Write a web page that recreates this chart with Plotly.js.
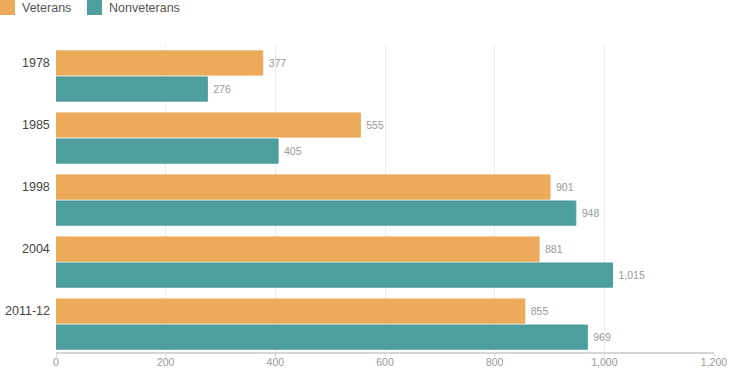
<!DOCTYPE html>
<html><head><meta charset="utf-8">
<script src="https://cdn.plot.ly/plotly-3.0.1.min.js"></script>
<style>html,body{margin:0;padding:0;background:#fff}#chart{width:729px;height:371px}</style>
</head><body><div id="chart"></div>
<script>
const years = ["1978", "1985", "1998", "2004", "2011-12"];
const veterans = [377, 555, 901, 881, 855];
const nonveterans = [276, 405, 948, 1015, 969];
const seriesNames = ["Veterans", "Nonveterans"];
const colors = ["#ecaa5b", "#4e9e9d"];
const xTicks = [0, 200, 400, 600, 800, 1000, 1200];

const W = 729, H = 371, ML = 56, MR = 15, MT = 45, MB = 19;
const PW = W - ML - MR, PH = H - MT - MB;
const px = x => (x - ML) / PW;
const py = y => (H - MB - y) / PH;

const mk = (name, vals, color) => ({
  type: 'bar', orientation: 'h', name: name, y: years, x: vals,
  marker: {color: color, line: {color: color, width: 1}},
  text: vals, texttemplate: '\u00a0%{x:,}', textposition: 'outside',
  textfont: {size: 10.5, color: '#999'}, cliponaxis: false,
  hoverinfo: 'x+name'
});

const data = [mk(seriesNames[0], veterans, colors[0]), mk(seriesNames[1], nonveterans, colors[1])];

const legendX = [0, 87];
const shapes = [], annotations = [];
seriesNames.forEach((n, i) => {
  shapes.push({type: 'rect', xref: 'paper', yref: 'paper',
    x0: px(legendX[i]), x1: px(legendX[i] + 15), y0: py(15), y1: py(0),
    fillcolor: colors[i], line: {width: 0}});
  annotations.push({xref: 'paper', yref: 'paper', x: px(legendX[i] + 20), y: py(8),
    xanchor: 'left', yanchor: 'middle', text: n, showarrow: false,
    font: {size: 12.5, color: '#555'}});
});
// category labels aligned with the first (Veterans) bar of each group
years.forEach((y, i) => {
  annotations.push({xref: 'paper', yref: 'y', x: 0, y: i, xshift: -4, yshift: 13,
    xanchor: 'right', yanchor: 'middle', text: y, showarrow: false,
    font: {size: 12.5, color: '#444'}});
});

const layout = {
  width: W, height: H,
  margin: {l: ML, r: MR, t: MT, b: MB, pad: 0},
  font: {family: 'Liberation Sans, Arial, sans-serif'},
  paper_bgcolor: '#fff', plot_bgcolor: '#fff',
  showlegend: false,
  barmode: 'group', bargap: 0.16, bargroupgap: 0.07,
  xaxis: {range: [0, 1200], tickvals: xTicks, ticktext: xTicks.map(v => v.toLocaleString('en-US')),
    showgrid: true, gridcolor: '#ececec', gridwidth: 1, zeroline: false,
    showline: true, linecolor: '#d6d6d6', linewidth: 2,
    ticks: 'outside', ticklen: 3, tickcolor: '#d6d6d6', tickwidth: 1,
    ticklabelstandoff: -4,
    tickfont: {size: 10.5, color: '#999'}, fixedrange: true},
  yaxis: {type: 'category', categoryorder: 'array', categoryarray: years,
    range: [4.45, -0.5], showgrid: false, zeroline: false, showline: false,
    ticks: '', showticklabels: false, fixedrange: true},
  shapes: shapes, annotations: annotations
};
Plotly.newPlot('chart', data, layout, {displayModeBar: false, staticPlot: true});
</script></body></html>
